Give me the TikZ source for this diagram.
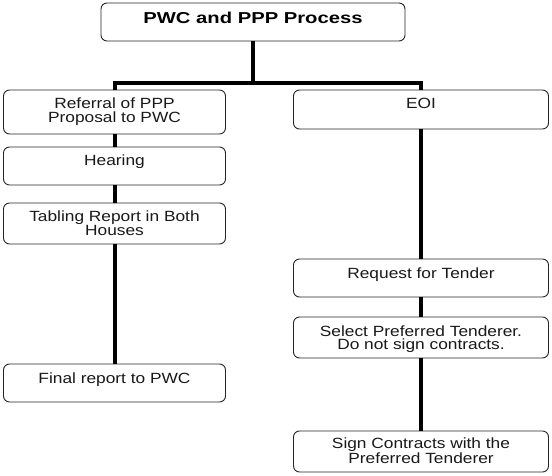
\documentclass[tikz,border=0pt]{standalone}
\usepackage{fontspec}
\setmainfont{Liberation Sans}[FakeStretch=1.17]
\newfontfamily\titlefont{Liberation Sans}[FakeStretch=1.28]
\begin{document}
\begin{tikzpicture}[x=1pt,y=-1pt,
  box/.style={draw=black!85, line width=0.9pt, rounded corners=6pt, fill=white, inner sep=0pt, minimum width=#1},
  box/.default=222pt,
  lbl/.style={anchor=base, align=center, inner sep=0pt, text=black!90, font=\fontsize{14.8}{13.5}\selectfont},
  ttl/.style={anchor=base, inner sep=0pt, text=black, font=\titlefont\bfseries\fontsize{15.8}{17}\selectfont},
  conn/.style={line width=4pt, black, line join=miter}]
\useasboundingbox (0,0) rectangle (552,476);
% coordinates of the horizontal bar
\coordinate (barL) at (114.5,83);
\coordinate (barR) at (421,83);
% boxes
\node[box=304pt, minimum height=38pt] (title) at (253,22) {};
\node[box, minimum height=44pt] (ref) at (114.5,112) {};
\node[box=255pt, minimum height=39pt] (eoi) at (421,109.5) {};
\node[box, minimum height=38pt] (hear) at (114.5,166) {};
\node[box, minimum height=41pt] (tab) at (114.5,223.5) {};
\node[box, minimum height=38pt] (fin) at (114.5,383) {};
\node[box=255pt, minimum height=38pt] (req) at (421,278) {};
\node[box=255pt, minimum height=41pt] (sel) at (421,337.5) {};
\node[box=255pt, minimum height=41pt] (sign) at (421,451.5) {};
% connectors
\draw[conn] (title.south) -- (title.south |- barL);
\draw[conn] (ref.north) -- (barL) -- (barR) -- (eoi.north);
\draw[conn] (ref.south) -- (hear.north);
\draw[conn] (hear.south) -- (tab.north);
\draw[conn] (tab.south) -- (fin.north);
\draw[conn] (eoi.south) -- (req.north);
\draw[conn] (req.south) -- (sel.north);
\draw[conn] (sel.south) -- (sign.north);
% texts (base anchor = last line's baseline)
\node[ttl] (titleT) at (253,24) {PWC and PPP Process};
\node[lbl] (refT) at (114.5,122.5) {Referral of PPP\\Proposal to PWC};
\node[lbl] (eoiT) at (421,109) {EOI};
\node[lbl] (hearT) at (114.5,166) {Hearing};
\node[lbl] (tabT) at (114.5,235.5) {Tabling Report in Both\\Houses};
\node[lbl] (finT) at (114.5,383) {Final report to PWC};
\node[lbl] (reqT) at (421,278) {Request for Tender};
\node[lbl] (selT) at (421,349.5) {Select Preferred Tenderer.\\Do not sign contracts.};
\node[lbl] (signT) at (421,463.5) {Sign Contracts with the\\Preferred Tenderer};
\end{tikzpicture}
\end{document}
